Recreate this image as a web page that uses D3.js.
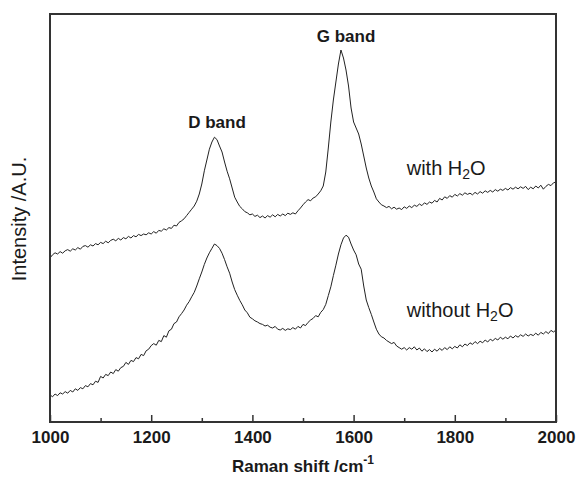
<!DOCTYPE html>
<html><head><meta charset="utf-8">
<script src="https://cdn.jsdelivr.net/npm/d3@7"></script>
<style>body{margin:0;background:#fff}svg{display:block}</style>
</head><body>
<svg id="chart" width="578" height="482"></svg>
<script>
// Raman shift grid (cm^-1), sampled every 5 cm^-1
const wavenumbers = d3.range(1000, 2001, 5);

// Intensity (A.U.) with H2O
const withH2O = [
  41.0,41.8,42.3,42.0,42.6,42.2,42.8,43.1,42.7,43.3,43.0,43.6,43.2,43.9,44.1,43.7,44.3,44.0,44.6,44.3,
  44.9,44.6,45.2,44.8,45.4,45.7,45.3,45.9,45.5,46.1,45.8,46.4,46.0,46.6,46.3,46.9,46.6,47.0,46.8,47.3,
  47.0,47.6,47.2,47.9,47.7,48.3,48.0,48.6,48.4,49.2,49.0,49.9,50.3,50.8,51.6,52.4,53.2,54.0,55.2,57.0,
  59.5,62.8,65.5,68.2,70.0,71.2,70.6,69.0,67.5,65.0,62.7,60.8,58.5,56.2,55.0,53.9,53.3,52.6,52.3,51.8,
  52.0,51.4,51.7,51.1,51.5,51.0,51.6,51.2,51.8,51.3,51.9,51.5,52.0,51.6,52.2,51.9,52.3,52.0,52.8,53.5,
  54.3,55.0,55.6,55.3,56.0,56.3,57.0,57.8,59.0,62.5,68.5,75.0,80.5,85.0,89.5,93.0,91.0,88.0,84.0,78.5,
  75.0,73.5,72.0,69.5,66.5,63.5,61.0,59.0,57.5,55.8,55.0,54.3,54.0,53.6,53.9,53.3,53.7,53.2,53.5,53.1,
  53.8,53.4,54.0,53.6,54.2,53.9,54.5,54.1,54.8,54.4,55.0,54.7,55.4,55.0,55.9,55.5,56.3,55.9,56.6,56.2,
  56.9,56.5,57.1,56.7,57.3,56.9,57.2,56.8,57.4,57.0,57.6,57.2,57.8,57.4,57.9,57.5,58.1,57.7,58.2,57.9,
  58.4,58.0,58.6,58.2,58.7,58.3,58.8,58.4,58.9,58.1,58.7,58.3,59.0,58.5,59.2,58.2,58.9,59.4,59.1,59.8,
  60.0
];

// Intensity (A.U.) without H2O
const withoutH2O = [
  6.8,6.3,7.0,6.6,7.3,7.0,7.6,7.2,7.9,7.5,8.3,7.9,8.6,8.3,9.1,8.8,9.6,9.3,10.2,9.9,
  11.4,11.0,11.9,11.6,12.5,12.1,13.1,12.7,13.6,13.9,14.9,14.4,15.4,15.1,16.1,15.8,16.9,16.6,17.8,18.2,
  19.1,19.6,19.2,20.4,20.1,21.6,21.2,22.8,23.2,24.6,25.0,26.3,27.1,28.0,29.2,30.1,31.3,32.4,34.0,35.8,
  37.5,39.4,41.0,42.3,43.4,44.5,44.1,43.4,42.2,40.6,38.8,37.2,35.0,33.1,31.7,30.4,29.3,28.0,27.3,26.2,
  25.8,25.3,25.0,24.6,24.4,24.0,24.2,23.7,23.5,23.9,23.2,23.0,23.4,22.9,23.3,23.1,23.6,23.2,23.9,23.5,
  24.4,24.1,24.9,25.5,25.9,26.6,26.3,27.4,28.1,29.4,31.6,33.8,36.6,39.2,42.0,44.3,46.0,46.7,46.2,44.5,
  43.0,41.8,39.5,38.2,34.0,30.5,28.6,26.9,25.0,23.2,22.0,21.3,21.0,20.4,20.0,19.6,19.9,19.0,18.6,18.2,
  18.6,18.0,18.6,18.2,18.8,18.0,18.5,17.7,18.3,17.6,18.1,17.5,18.2,17.7,18.4,17.9,18.6,18.1,18.8,18.3,
  18.9,18.5,19.3,18.8,19.5,19.1,19.8,19.4,20.1,19.6,20.2,19.8,20.5,20.0,20.7,20.3,20.9,20.5,21.2,20.7,
  21.2,20.8,21.5,21.0,21.6,21.2,21.8,21.4,22.0,21.5,21.9,21.6,22.2,21.7,22.4,22.0,22.6,22.1,22.9,22.5,
  23.0
];

const majorTicks = [1000, 1200, 1400, 1600, 1800, 2000];
const minorTicks = [1100, 1300, 1500, 1700, 1900];
const bandLabels = [
  {text: "D band", x: 1330, y: 73.5},
  {text: "G band", x: 1585, y: 95}
];
const seriesLabels = [
  {main: "with H", sub: "2", tail: "O", x: 1705, y: 61.8},
  {main: "without H", sub: "2", tail: "O", x: 1705, y: 26.2}
];

const W = 578, H = 482;
const m = {left: 50, right: 22, top: 14, bottom: 60};
const svg = d3.select("#chart");
const x = d3.scaleLinear().domain([1000, 2000]).range([m.left, W - m.right]);
const y = d3.scaleLinear().domain([0, 102]).range([H - m.bottom, m.top]);
const FONT = "Liberation Sans, Arial, Helvetica, sans-serif";

const line = d3.line().x((d, i) => x(wavenumbers[i])).y(d => y(d));

[withH2O, withoutH2O].forEach(s => {
  svg.append("path").datum(s).attr("d", line)
    .attr("fill", "none").attr("stroke", "#222").attr("stroke-width", 1)
    .attr("stroke-linejoin", "round");
});

// minor ticks
svg.append("g").attr("transform", `translate(0,${y(0)})`)
  .call(d3.axisBottom(x).tickValues(minorTicks).tickSize(-4).tickFormat(""))
  .call(g => g.select(".domain").remove())
  .call(g => g.selectAll("line").attr("stroke", "#333").attr("stroke-width", 1.5));

// major ticks + labels
svg.append("g").attr("transform", `translate(0,${y(0)})`)
  .call(d3.axisBottom(x).tickValues(majorTicks).tickSize(-7).tickPadding(9).tickFormat(d3.format("d")))
  .call(g => g.select(".domain").remove())
  .call(g => g.selectAll("line").attr("stroke", "#333").attr("stroke-width", 1.5))
  .call(g => g.selectAll("text").attr("font-family", FONT).attr("font-size", 17)
    .attr("font-weight", "bold").attr("fill", "#1a1a1a"));

// frame
svg.append("rect").attr("x", x(1000)).attr("y", y(102))
  .attr("width", x(2000) - x(1000)).attr("height", y(0) - y(102))
  .attr("fill", "none").attr("stroke", "#333").attr("stroke-width", 2);

// x title
const xt = svg.append("text").attr("x", 303).attr("y", 472).attr("text-anchor", "middle")
  .attr("font-family", FONT).attr("font-size", 17).attr("font-weight", "bold").attr("fill", "#1a1a1a");
xt.append("tspan").text("Raman shift /cm");
xt.append("tspan").attr("font-size", 12).attr("dy", -8).text("-1");

// y title
svg.append("text").attr("transform", `translate(26,${219}) rotate(-90)`)
  .attr("text-anchor", "middle").attr("font-family", FONT).attr("font-size", 20)
  .attr("fill", "#1a1a1a").text("Intensity /A.U.");

// band labels
svg.selectAll(".band").data(bandLabels).enter().append("text")
  .attr("x", d => x(d.x)).attr("y", d => y(d.y)).attr("text-anchor", "middle")
  .attr("font-family", FONT).attr("font-size", 17).attr("font-weight", "bold")
  .attr("fill", "#1a1a1a").text(d => d.text);

// series labels
seriesLabels.forEach(d => {
  const t = svg.append("text").attr("x", x(d.x)).attr("y", y(d.y))
    .attr("font-family", FONT).attr("font-size", 20).attr("fill", "#1a1a1a");
  t.append("tspan").text(d.main);
  t.append("tspan").attr("font-size", 14).attr("dy", 4).text(d.sub);
  t.append("tspan").attr("dy", -4).text(d.tail);
});
</script>
</body></html>
